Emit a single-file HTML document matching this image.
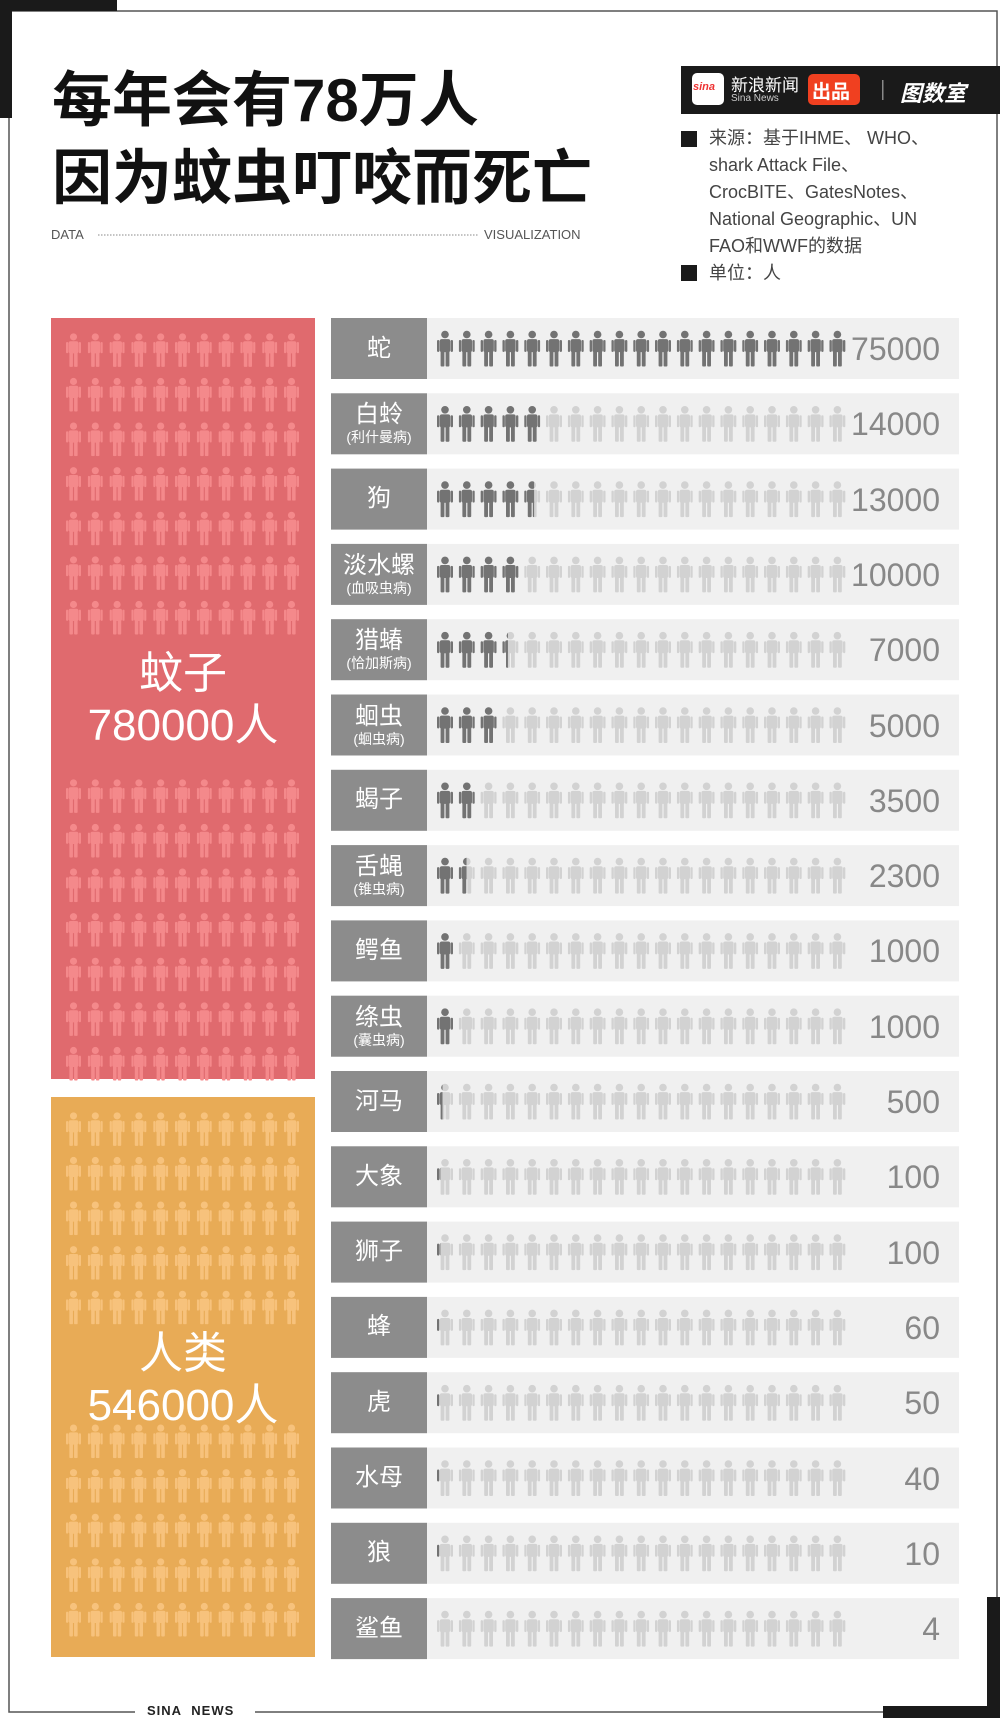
<!DOCTYPE html>
<html><head><meta charset="utf-8">
<style>
html,body{margin:0;padding:0;background:#fff;}
body{width:1000px;height:1718px;position:relative;overflow:hidden;font-family:"Liberation Sans","Noto Sans CJK SC",sans-serif;}
.abs{position:absolute;}
</style></head><body>
<svg class="abs" style="left:0;top:0" width="1000" height="1718" id="s">
<defs>
<symbol id="p" viewBox="0 0 16 36">
<circle cx="8" cy="4" r="3.8"/>
<rect x="2.8" y="8.6" width="10.4" height="13" rx="2"/>
<rect x="0" y="9.5" width="2.4" height="12" rx="1.2"/>
<rect x="13.6" y="9.5" width="2.4" height="12" rx="1.2"/>
<rect x="3.6" y="20" width="3.8" height="16" rx="1"/>
<rect x="8.6" y="20" width="3.8" height="16" rx="1"/>
</symbol>
</defs>
<rect x="9" y="11" width="988" height="1701" fill="none" stroke="#555" stroke-width="1.5"/>
<rect x="0" y="0" width="117" height="11" fill="#1a1a1a"/>
<rect x="0" y="0" width="12" height="118" fill="#1a1a1a"/>
<rect x="883" y="1706" width="117" height="12" fill="#1a1a1a"/>
<rect x="987" y="1597" width="13" height="121" fill="#1a1a1a"/>
<rect x="135" y="1700" width="120" height="18" fill="#fff"/>
<rect x="681" y="66" width="319" height="48" fill="#1a1a1a"/>
<rect x="692" y="73" width="32" height="32" rx="5" fill="#fff"/>
<rect x="808" y="74" width="52" height="31" rx="5" fill="#f04020"/>
<rect x="882" y="80" width="1.5" height="20" fill="#888"/>
<rect x="681" y="131" width="16" height="16" fill="#1a1a1a"/>
<rect x="681" y="265" width="16" height="16" fill="#1a1a1a"/>
<line x1="98" y1="235" x2="478" y2="235" stroke="#888" stroke-width="1" stroke-dasharray="1.5,1.5"/>
<rect x="51" y="318" width="264" height="761" fill="#e06a6e"/>
<rect x="51" y="1097" width="264" height="560" fill="#e8ab56"/>
<g id="g"></g>
</svg>
<div class="abs" style="left:52px;top:62px;font-size:60px;font-weight:bold;line-height:78px;color:#111;white-space:nowrap;">每年会有78万人<br>因为蚊虫叮咬而死亡</div>
<div class="abs" style="left:51px;top:227px;font-size:13px;color:#555;">DATA</div>
<div class="abs" style="left:484px;top:227px;font-size:13px;color:#555;">VISUALIZATION</div>
<div class="abs" style="left:693px;top:81px;font-size:11px;color:#e33;font-weight:bold;font-style:italic;">sina</div>
<div class="abs" style="left:731px;top:71px;font-size:17px;color:#fff;">新浪新闻</div>
<div class="abs" style="left:731px;top:93px;font-size:10px;color:#ccc;">Sina News</div>
<div class="abs" style="left:812px;top:77px;font-size:19px;color:#fff;font-weight:bold;">出品</div>
<div class="abs" style="left:900px;top:76px;font-size:22px;color:#fff;font-weight:bold;font-style:italic;">图数室</div>
<div class="abs" style="left:709px;top:125px;font-size:18px;line-height:27px;color:#444;width:270px;">来源：基于IHME、 WHO、<br>shark Attack File、<br>CrocBITE、GatesNotes、<br>National Geographic、UN<br>FAO和WWF的数据<br>单位：人</div>
<div class="abs" style="left:51px;top:648px;width:264px;text-align:center;color:#fff;font-size:44px;line-height:52px;">蚊子<br>780000人</div>
<div class="abs" style="left:51px;top:1328px;width:264px;text-align:center;color:#fff;font-size:44px;line-height:52px;">人类<br>546000人</div>
<div class="abs" style="left:147px;top:1703px;font-size:13px;font-weight:bold;color:#222;letter-spacing:1px;">SINA&nbsp;&nbsp;NEWS</div>
<div id="labels"></div>
<script>
var g=document.getElementById('g'),h='';
function fig(x,y,w,hh,c){return '<use href="#p" x="'+x+'" y="'+y+'" width="'+w+'" height="'+hh+'" fill="'+c+'"/>';}
for(var r=0;r<17;r++){var y=333+r*44.6;if(y>1050)break;if(y>610&&y<740)continue;for(var c=0;c<11;c++)h+=fig(66+c*21.8,y,15,34,'#f4898b');}
for(var r=0;r<13;r++){var y=1112+r*44.6;if(y>1630)break;if(y>1300&&y<1420)continue;for(var c=0;c<11;c++)h+=fig(66+c*21.8,y,15,34,'#f7c27c');}
var rows=[["蛇","",75000,19],["白蛉","(利什曼病)",14000,5],["狗","",13000,4.5],["淡水螺","(血吸虫病)",10000,4],["猎蝽","(恰加斯病)",7000,3.3],["蛔虫","(蛔虫病)",5000,3],["蝎子","",3500,2],["舌蝇","(锥虫病)",2300,1.4],["鳄鱼","",1000,1],["绦虫","(囊虫病)",1000,1],["河马","",500,0.3],["大象","",100,0.2],["狮子","",100,0.2],["蜂","",60,0.15],["虎","",50,0.15],["水母","",40,0.15],["狼","",10,0.15],["鲨鱼","",4,0]];
var lab='';
rows.forEach(function(d,i){var y=318+i*75.3;
h+='<rect x="331" y="'+y+'" width="628" height="61" fill="#f0f0f0"/><rect x="331" y="'+y+'" width="96" height="61" fill="#8c8c8c"/>';
h+='<clipPath id="c'+i+'"><rect x="436" y="'+y+'" width="'+(d[3]*21.8)+'" height="61"/></clipPath>';
var f='',k='';for(var c=0;c<19;c++){f+=fig(437+c*21.8,y+12,16,37,'#d2d2d2');k+=fig(437+c*21.8,y+12,16,37,'#737373');}
h+=f+'<g clip-path="url(#c'+i+')">'+k+'</g>';
lab+='<div class="abs" style="left:331px;top:'+y+'px;width:96px;height:61px;display:flex;flex-direction:column;justify-content:center;align-items:center;color:#fff;"><div style="font-size:24px;line-height:28px;">'+d[0]+'</div>'+(d[1]?'<div style="font-size:14px;line-height:17px;">'+d[1]+'</div>':'')+'</div>';
lab+='<div class="abs" style="left:820px;top:'+(y+11)+'px;width:120px;text-align:right;font-size:32px;line-height:40px;color:#888;">'+d[2]+'</div>';
});
g.innerHTML=h;document.getElementById('labels').innerHTML=lab;
</script>
</body></html>
